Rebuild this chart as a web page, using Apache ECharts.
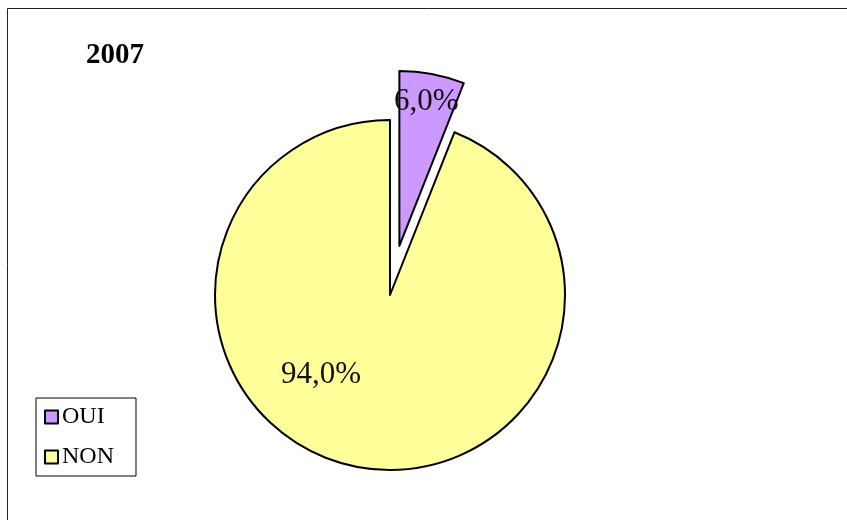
<!DOCTYPE html>
<html>
<head>
<meta charset="utf-8">
<script src="https://cdn.jsdelivr.net/npm/echarts@6/dist/echarts.min.js"></script>
<style>
  html, body { margin: 0; padding: 0; background: #fff; }
  #main { width: 847px; height: 520px; }
</style>
</head>
<body>
<div id="main"></div>
<script>
// données du graphique
const titre = '2007'
const categories = ['OUI', 'NON']
const valeurs = [6.0, 94.0]
const couleurs = ['#CC99FF', '#FFFF99']

const serif = '"Liberation Serif", "DejaVu Serif", serif'

// position des étiquettes (décalage par rapport à la position "inside")
const decalages = [[10, -55], [-52, -9]]

const myChart = echarts.init(document.getElementById('main'))

const option = {
  backgroundColor: '#fff',
  animation: false,
  title: {
    text: titre,
    left: 81,
    top: 36,
    textStyle: { fontFamily: serif, fontSize: 29, fontWeight: 'bold', color: '#000' }
  },
  legend: {
    orient: 'vertical',
    left: 36,
    top: 398,
    padding: [7, 22, 7, 8],
    itemGap: 16,
    itemWidth: 13,
    itemHeight: 13,
    icon: 'rect',
    borderColor: '#000',
    borderWidth: 1,
    itemStyle: { borderColor: '#000', borderWidth: 2 },
    textStyle: { fontFamily: serif, fontSize: 24, color: '#000', padding: [0, 0, 0, -1] },
    data: categories
  },
  graphic: [{
    type: 'rect',
    shape: { x: 7.5, y: 8.5, width: 900, height: 600 },
    style: { fill: 'none', stroke: '#222', lineWidth: 1 },
    silent: true
  }],
  series: [{
    type: 'pie',
    center: [390, 295],
    radius: 175,
    startAngle: 90,
    clockwise: true,
    selectedMode: 'single',
    selectedOffset: 50,
    itemStyle: { borderColor: '#000', borderWidth: 2 },
    emphasis: { disabled: true },
    label: {
      show: true,
      position: 'inside',
      fontFamily: serif,
      fontSize: 31,
      color: '#111',
      formatter: p => p.value.toFixed(1).replace('.', ',') + '%'
    },
    labelLine: { show: false },
    data: categories.map((c, i) => ({
      name: c,
      value: valeurs[i],
      selected: i === 0,
      itemStyle: { color: couleurs[i] },
      select: {
        itemStyle: { color: couleurs[i], borderColor: '#000', borderWidth: 2 },
        label: { offset: decalages[i] }
      },
      label: { offset: decalages[i] }
    }))
  }]
}

myChart.setOption(option)
</script>
</body>
</html>
